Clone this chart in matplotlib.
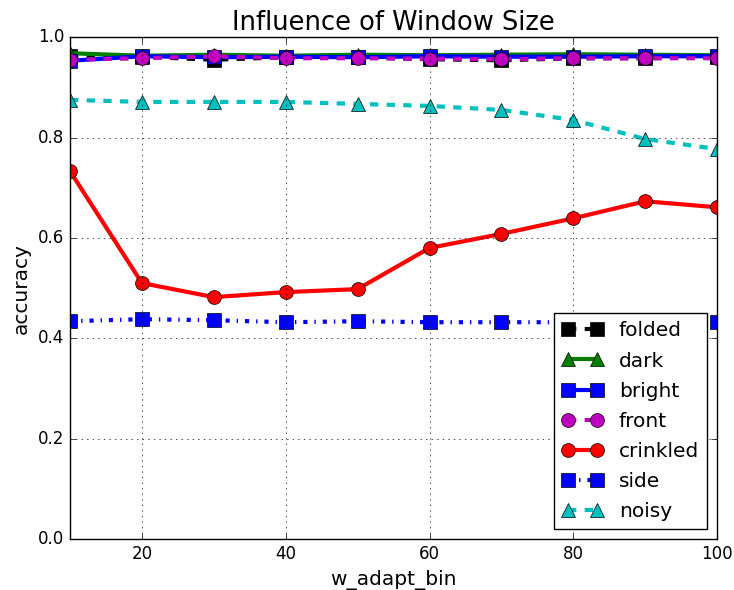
import matplotlib
matplotlib.use("Agg")
import matplotlib.pyplot as plt

plt.style.use("classic")

# window sizes
w_adapt_bin = [10, 20, 30, 40, 50, 60, 70, 80, 90, 100]

# accuracy per condition
folded = [0.963, 0.961, 0.955, 0.960, 0.960, 0.956, 0.954, 0.958, 0.958, 0.960]
dark = [0.968, 0.963, 0.965, 0.963, 0.965, 0.964, 0.965, 0.966, 0.965, 0.964]
bright = [0.953, 0.962, 0.960, 0.961, 0.960, 0.962, 0.961, 0.961, 0.962, 0.962]
front = [0.955, 0.958, 0.962, 0.958, 0.958, 0.957, 0.956, 0.958, 0.958, 0.958]
crinkled = [0.733, 0.510, 0.482, 0.492, 0.498, 0.580, 0.608, 0.639, 0.673, 0.661]
side = [0.434, 0.438, 0.436, 0.432, 0.434, 0.432, 0.432, 0.432, 0.432, 0.432]
noisy = [0.875, 0.871, 0.871, 0.871, 0.867, 0.863, 0.855, 0.835, 0.797, 0.777]

fig = plt.figure(figsize=(7.34, 5.9), dpi=100, facecolor="white")
ax = fig.add_axes([0.0954, 0.0864, 0.8816, 0.8506])

lw = 3
ms = 10
ax.plot(w_adapt_bin, folded, "k--", marker="s", lw=lw, ms=ms, label="folded")
ax.plot(w_adapt_bin, dark, "g-", marker="^", lw=lw, ms=ms, label="dark")
ax.plot(w_adapt_bin, bright, "b-", marker="s", lw=lw, ms=ms, label="bright")
ax.plot(w_adapt_bin, front, "m--", marker="o", lw=lw, ms=ms, label="front")
ax.plot(w_adapt_bin, crinkled, "r-", marker="o", lw=lw, ms=ms, label="crinkled")
ax.plot(w_adapt_bin, side, "b-.", marker="s", lw=lw, ms=ms, label="side")
ax.plot(w_adapt_bin, noisy, "c--", marker="^", lw=lw, ms=ms, label="noisy")

ax.set_xlim(10, 100)
ax.set_ylim(0, 1.0)
ax.set_xticks([20, 40, 60, 80, 100])
ax.set_yticks([0.0, 0.2, 0.4, 0.6, 0.8, 1.0])
ax.tick_params(labelsize=12)
ax.grid(True)

ax.set_title("Influence of Window Size", fontsize=18.5)
ax.set_xlabel("w_adapt_bin", fontsize=14.5)
ax.set_ylabel("accuracy", fontsize=14.5)

ax.legend(loc="lower right", fontsize=14.5, numpoints=2, labelspacing=0.55,
          borderaxespad=0.5)

fig.savefig("out.png", dpi=100, facecolor="white")
